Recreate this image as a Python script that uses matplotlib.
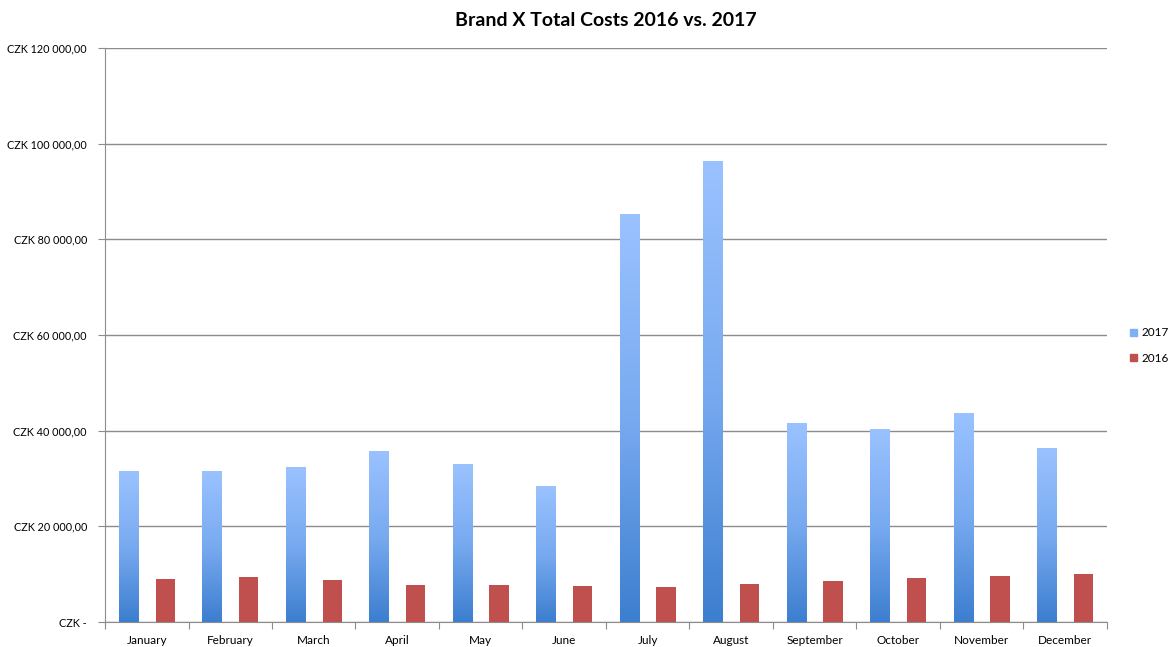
import numpy as np
import matplotlib.pyplot as plt
from matplotlib.colors import LinearSegmentedColormap
from matplotlib.ticker import FuncFormatter, FixedLocator
from matplotlib.patches import Patch

plt.rcParams['font.family'] = ['Lato', 'DejaVu Sans']

# data
months = ['January', 'February', 'March', 'April', 'May', 'June', 'July',
          'August', 'September', 'October', 'November', 'December']
costs_2017 = [31400, 31400, 32200, 35700, 33000, 28300, 85100,
              96200, 41400, 40300, 43600, 36300]
costs_2016 = [8900, 9400, 8700, 7800, 7800, 7500, 7300,
              7900, 8600, 9200, 9700, 10000]

fig = plt.figure(figsize=(11.75, 6.47), dpi=100)
ax = fig.add_axes([0.0894, 0.0386, 0.8526, 0.8872])

x = np.arange(len(months))
w = 0.23
off = 0.22

blue_cmap = LinearSegmentedColormap.from_list('b', ['#3c7ecf', '#78aaf0', '#9ac2ff'])
bars17 = ax.bar(x - off, costs_2017, w, color='none', label='2017', zorder=3)
bars16 = ax.bar(x + off, costs_2016, w, color='#c0504d', label='2016', zorder=3)

# vertical gradient fill for the 2017 bars
grad = np.linspace(0, 1, 256).reshape(-1, 1)
for r in bars17:
    x0, y0 = r.get_x(), r.get_y()
    ax.imshow(grad, extent=[x0, x0 + r.get_width(), y0, y0 + r.get_height()],
              origin='lower', cmap=blue_cmap, vmin=0, vmax=1,
              aspect='auto', zorder=3)

ax.set_xlim(-0.5, len(months) - 0.5)
ax.set_ylim(0, 120000)

def czk(v, pos):
    if v == 0:
        return 'CZK -'
    return 'CZK ' + f'{v:,.2f}'.replace(',', ' ').replace('.', ',')

ax.yaxis.set_major_locator(FixedLocator(np.arange(0, 120001, 20000)))
ax.yaxis.set_major_formatter(FuncFormatter(czk))
ax.grid(axis='y', color='#8c8c8c', linewidth=1, zorder=0)
ax.set_axisbelow(True)

ax.set_xticks(np.arange(-0.5, len(months)), minor=False)
ax.set_xticklabels([])
ax.set_xticks(x, minor=True)
ax.set_xticklabels(months, minor=True)
ax.tick_params(axis='x', which='minor', length=0, pad=9, labelsize=8.5)
ax.tick_params(axis='x', which='major', length=5, color='#8c8c8c')
ax.tick_params(axis='y', length=5, color='#8c8c8c', labelsize=7.8, pad=8)

for s in ['top', 'right']:
    ax.spines[s].set_visible(False)
for s in ['left', 'bottom']:
    ax.spines[s].set_color('#8c8c8c')

ax.set_title('Brand X Total Costs 2016 vs. 2017', fontsize=14, fontweight='bold', pad=16)

handles = [Patch(color='#7fb0f5', label='2017'), Patch(color='#c0504d', label='2016')]
fig.legend(handles=handles, loc='center left', bbox_to_anchor=(0.953, 0.466),
           frameon=False, fontsize=8.5, handlelength=0.6, handleheight=0.6,
           handletextpad=0.3, labelspacing=1.2)

fig.savefig('out.png', dpi=100)
